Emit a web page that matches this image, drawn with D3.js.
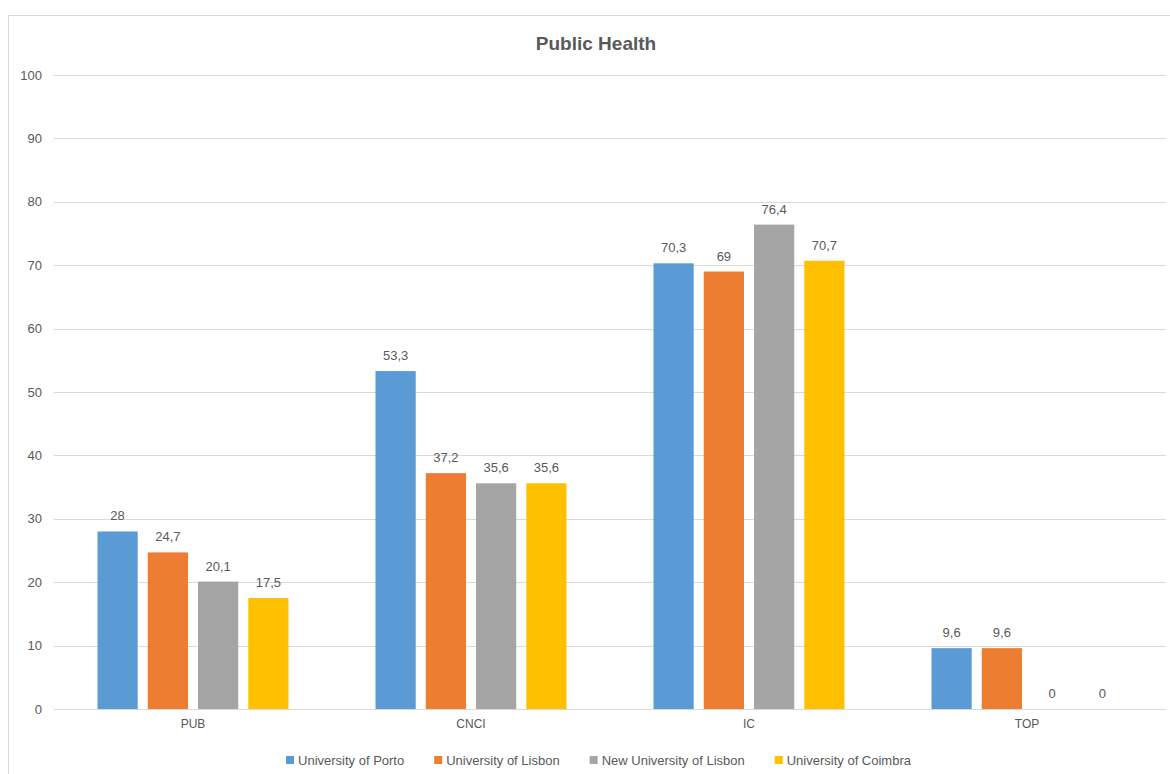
<!DOCTYPE html>
<html><head><meta charset="utf-8">
<script src="https://cdn.jsdelivr.net/npm/d3@7"></script>
<style>body{margin:0;background:#fff}svg{display:block}text{font-family:"Liberation Sans",Arial,sans-serif;fill:#595959}</style>
</head><body><svg id="c" width="1170" height="774"></svg>
<script>
const categories = ["PUB","CNCI","IC","TOP"];
const seriesNames = ["University of Porto","University of Lisbon","New University of Lisbon","University of Coimbra"];
const porto = [28,53.3,70.3,9.6];
const lisbon = [24.7,37.2,69,9.6];
const newLisbon = [20.1,35.6,76.4,0];
const coimbra = [17.5,35.6,70.7,0];
const yTicks = [0,10,20,30,40,50,60,70,80,90,100];
const colors = ["#5B9BD5","#ED7D31","#A5A5A5","#FFC000"];
const series = [porto,lisbon,newLisbon,coimbra];

(function(){
const svg = d3.select("#c");
svg.append("rect").attr("x",8.5).attr("y",15.5).attr("width",1200).attr("height",800)
  .attr("fill","#fff").attr("stroke","#D9D9D9").attr("stroke-width",1);

const pLeft=54, pRight=1166, pTop=75, pBottom=709;
const x0 = d3.scaleBand().domain(categories).range([pLeft,pRight]).padding(0);
const bw = x0.bandwidth();
const groupW = 191;
const x1 = d3.scaleBand().domain(d3.range(4)).range([(bw-groupW)/2,(bw+groupW)/2]).paddingInner(0.2).paddingOuter(0);
const y = d3.scaleLinear().domain([0,100]).range([pBottom,pTop]);

svg.append("g").selectAll("line").data(yTicks).join("line")
  .attr("x1",pLeft).attr("x2",pRight).attr("y1",d=>Math.round(y(d))+0.5).attr("y2",d=>Math.round(y(d))+0.5)
  .attr("stroke","#D9D9D9").attr("stroke-width",1);

const yAxis = d3.axisLeft(y).tickValues(yTicks).tickSize(0).tickPadding(12);
const ya = svg.append("g").attr("transform",`translate(${pLeft},0)`).call(yAxis);
ya.select(".domain").remove();
ya.selectAll("text").style("font-size","13px").attr("fill","#595959").style("font-family","Liberation Sans, Arial, sans-serif");

const fmt = v => String(v).replace(".",",");
categories.forEach((c,ci)=>{
  const g = svg.append("g").attr("transform",`translate(${x0(c)},0)`);
  series.forEach((s,si)=>{
    const v = s[ci];
    if (v>0) g.append("rect").attr("x",x1(si)).attr("width",x1.bandwidth())
      .attr("y",y(v)).attr("height",y(0)-y(v)).attr("fill",colors[si]);
    g.append("text").attr("x",x1(si)+x1.bandwidth()/2).attr("y",y(v)-11)
      .attr("text-anchor","middle").style("font-size","13px").text(fmt(v));
  });
});

const xAxis = d3.axisBottom(x0).tickSize(0).tickPadding(10);
const xa = svg.append("g").attr("transform",`translate(0,${pBottom})`).call(xAxis);
xa.select(".domain").remove();
xa.selectAll("text").style("font-size","12px").attr("fill","#595959").style("font-family","Liberation Sans, Arial, sans-serif");

svg.append("text").attr("x",596).attr("y",50).attr("text-anchor","middle")
  .style("font-size","19px").style("font-weight","bold").text("Public Health");

const lg = svg.append("g");
let cx = 0;
seriesNames.forEach((n,i)=>{
  const it = lg.append("g");
  it.append("rect").attr("x",0).attr("y",-9).attr("width",8).attr("height",8).attr("fill",colors[i]);
  const t = it.append("text").attr("x",12).attr("y",0).style("font-size","13px").text(n);
  const w = 12 + t.node().getComputedTextLength();
  it.attr("transform",`translate(${cx},765)`);
  cx += w + 30;
});
const total = cx - 30;
lg.attr("transform",`translate(${598.5-total/2},0)`);
})();
</script></body></html>
